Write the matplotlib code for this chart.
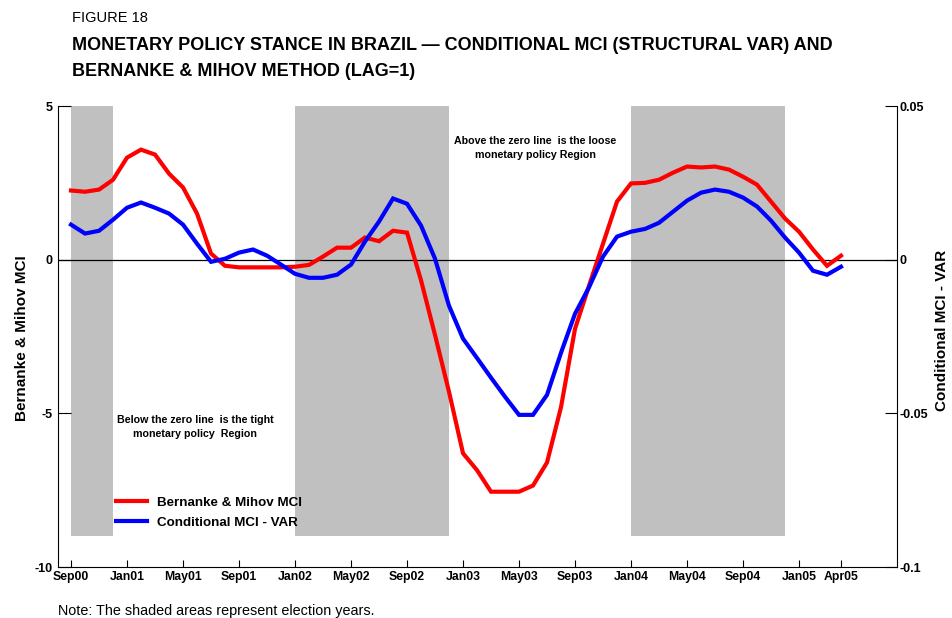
import matplotlib
matplotlib.use("Agg")
import matplotlib.pyplot as plt
import numpy as np

# ---- data ----
months = ["Sep00","Oct00","Nov00","Dec00","Jan01","Feb01","Mar01","Apr01","May01","Jun01","Jul01","Aug01",
          "Sep01","Oct01","Nov01","Dec01","Jan02","Feb02","Mar02","Apr02","May02","Jun02","Jul02","Aug02",
          "Sep02","Oct02","Nov02","Dec02","Jan03","Feb03","Mar03","Apr03","May03","Jun03","Jul03","Aug03",
          "Sep03","Oct03","Nov03","Dec03","Jan04","Feb04","Mar04","Apr04","May04","Jun04","Jul04","Aug04",
          "Sep04","Oct04","Nov04","Dec04","Jan05","Feb05","Mar05","Apr05"]
bernanke_mihov = [2.25, 2.21, 2.28, 2.6, 3.32, 3.58, 3.42, 2.8, 2.35, 1.5, 0.2, -0.2,
                  -0.25, -0.25, -0.25, -0.25, -0.23, -0.17, 0.1, 0.39, 0.39, 0.72, 0.6, 0.94,
                  0.88, -0.67, -2.45, -4.3, -6.3, -6.85, -7.55, -7.55, -7.55, -7.35, -6.6, -4.8,
                  -2.25, -0.85, 0.52, 1.89, 2.48, 2.5, 2.6, 2.83, 3.03, 3.0, 3.03, 2.93,
                  2.7, 2.44, 1.89, 1.34, 0.91, 0.33, -0.2, 0.13]
conditional_var = [0.0114, 0.0085, 0.0094, 0.0130, 0.0169, 0.0186, 0.0169, 0.0150, 0.0114, 0.0052, -0.0007, 0.0003,
                   0.0023, 0.0033, 0.0013, -0.0016, -0.0046, -0.0059, -0.0059, -0.0049, -0.0016, 0.0059, 0.0124, 0.0199,
                   0.0182, 0.0111, 0.0003, -0.0150, -0.0257, -0.0320, -0.0384, -0.0446, -0.0505, -0.0505, -0.0440, -0.0303,
                   -0.0176, -0.0090, 0.0010, 0.0075, 0.0091, 0.0100, 0.0120, 0.0156, 0.0192, 0.0218, 0.0228, 0.0221,
                   0.0202, 0.0173, 0.0127, 0.0072, 0.0023, -0.0036, -0.0049, -0.0023]
tick_labels = ["Sep00","Jan01","May01","Sep01","Jan02","May02","Sep02","Jan03","May03","Sep03",
               "Jan04","May04","Sep04","Jan05","Apr05"]
election_spans = [("Sep00", "Dec00"), ("Jan02", "Dec02"), ("Jan04", "Dec04")]
left_ticks = [5, 0, -5, -10]
right_ticks = [0.05, 0, -0.05, -0.1]
right_tick_labels = ["0.05", "0", "-0.05", "-0.1"]

x = np.arange(len(months))
idx = {m: i for i, m in enumerate(months)}

FONT = ["Liberation Sans", "DejaVu Sans"]

fig = plt.figure(figsize=(9.52, 6.18), dpi=100)
ax = fig.add_axes([58/952, 1-567/618, (897-58)/952, (567-106)/618])
ax2 = ax.twinx()

for s, e in election_spans:
    ax.fill_between([idx[s], idx[e]], -9, 5, color="#c0c0c0", lw=0, zorder=0)

ax.axhline(0, color="black", lw=0.9, zorder=1)
l1, = ax.plot(x, bernanke_mihov, color="#ff0000", lw=3.0, zorder=3, solid_joinstyle="miter")
l2, = ax2.plot(x, conditional_var, color="#0000ff", lw=3.0, zorder=3, solid_joinstyle="miter")

ax.set_xlim(-0.93, 59.0)
ax.set_ylim(-10, 5)
ax2.set_ylim(-0.1, 0.05)

for a in (ax, ax2):
    a.spines["top"].set_visible(False)
ax.spines["right"].set_visible(False)
ax2.spines["left"].set_visible(False)
ax2.spines["bottom"].set_visible(False)

ax.set_xticks([idx[t] for t in tick_labels])
ax.set_xticklabels(tick_labels)
ax.set_yticks(left_ticks)
ax.set_yticklabels([str(v) for v in left_ticks])
ax2.set_yticks(right_ticks)
ax2.set_yticklabels(right_tick_labels)

ax.tick_params(axis="x", direction="in", length=5, pad=3, labelsize=8.8)
ax.tick_params(axis="y", direction="in", length=9, pad=4, labelsize=9)
ax2.tick_params(axis="y", direction="in", length=9, pad=2, labelsize=9)
for lab in ax.get_xticklabels() + ax.get_yticklabels() + ax2.get_yticklabels():
    lab.set_family(FONT)
    lab.set_fontweight("bold")

ax.set_ylabel("Bernanke & Mihov MCI", fontsize=11, fontweight="bold", family=FONT)
ax.yaxis.set_label_coords((29-58)/839, (567-338)/461)
ax2.set_ylabel("Conditional MCI - VAR", fontsize=11, fontweight="bold", family=FONT, rotation=90)
ax2.yaxis.set_label_coords((935-58)/839, (567-330)/461)

ax.text((535-58)/839, 1-(148-106)/461, "Above the zero line  is the loose\nmonetary policy Region",
        transform=ax.transAxes, ha="center", va="center", fontsize=7.7, fontweight="bold",
        family=FONT, linespacing=1.5)
ax.text((195-58)/839, 1-(427-106)/461, "Below the zero line  is the tight\nmonetary policy  Region",
        transform=ax.transAxes, ha="center", va="center", fontsize=7.7, fontweight="bold",
        family=FONT, linespacing=1.5)

leg = ax.legend([l1, l2], ["Bernanke & Mihov MCI", "Conditional MCI - VAR"], loc="lower left",
                bbox_to_anchor=((116-58)/839, (567-529)/461), frameon=False,
                prop={"family": FONT, "weight": "bold", "size": 9.6},
                handlelength=2.3, handletextpad=0.75, labelspacing=0.58, borderpad=0, borderaxespad=0)

fig.text(72/952, 1-18/618, "FIGURE 18", fontsize=10.5, family=FONT, va="center", ha="left")
fig.text(72/952, 1-46/618, "MONETARY POLICY STANCE IN BRAZIL \u2014 CONDITIONAL MCI (STRUCTURAL VAR) AND",
         fontsize=13.0, fontweight="bold", family=FONT, va="center", ha="left")
fig.text(72/952, 1-72/618, "BERNANKE & MIHOV METHOD (LAG=1)",
         fontsize=13.0, fontweight="bold", family=FONT, va="center", ha="left")
fig.text(58/952, 1-611/618, "Note: The shaded areas represent election years.", fontsize=10.4,
         family=FONT, va="center", ha="left")

fig.savefig("out.png", dpi=100)
